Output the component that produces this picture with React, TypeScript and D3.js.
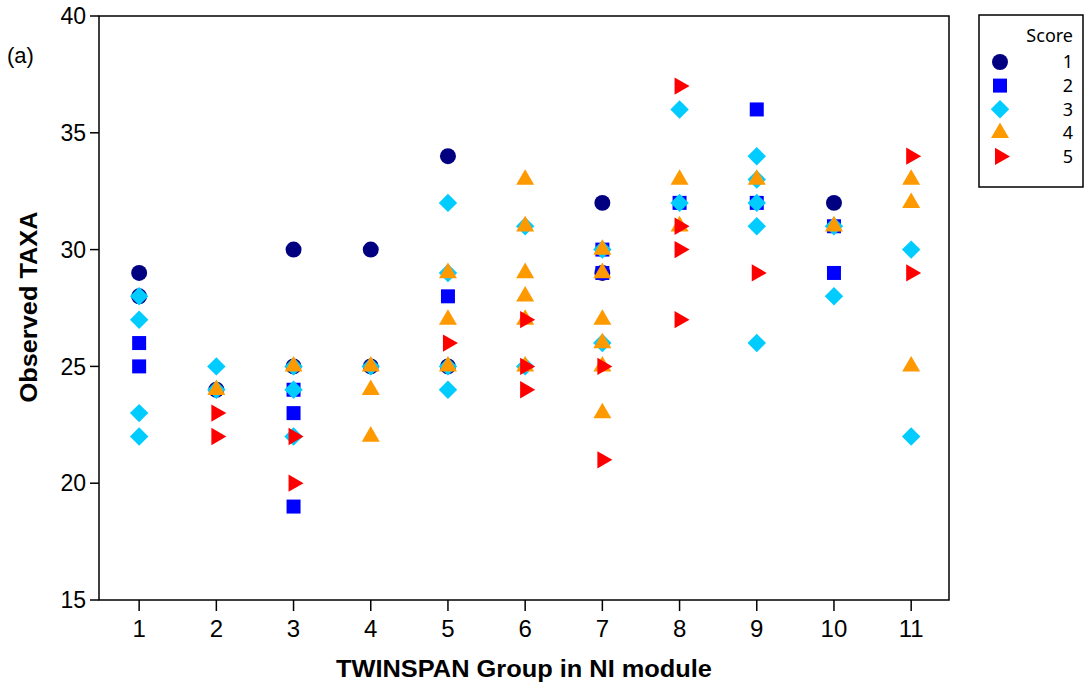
import React from "react";
import * as d3 from "d3";

const xTicks = [1, 2, 3, 4, 5, 6, 7, 8, 9, 10, 11];
const yTicks = [15, 20, 25, 30, 35, 40];
const scoreLabels = ["1", "2", "3", "4", "5"];

// [TWINSPAN group, observed taxa]
const score1: [number, number][] = [[1,29],[1,28],[2,24],[3,30],[3,25],[4,30],[4,25],[5,34],[5,25],[7,32],[7,29],[10,32]];
const score2: [number, number][] = [[1,26],[1,25],[3,24],[3,23],[3,19],[5,28],[7,30],[7,29],[8,32],[9,36],[9,32],[10,31],[10,29]];
const score3: [number, number][] = [[1,28],[1,27],[1,23],[1,22],[2,25],[2,24],[3,25],[3,24],[3,22],[4,25],[5,32],[5,29],[5,25],[5,24],[6,31],[6,25],[7,30],[7,26],[8,36],[8,32],[9,34],[9,33],[9,32],[9,31],[9,26],[10,31],[10,28],[11,30],[11,22]];
const score4: [number, number][] = [[2,24],[3,25],[4,25],[4,24],[4,22],[5,29],[5,27],[5,25],[6,33],[6,31],[6,29],[6,28],[6,27],[6,25],[7,30],[7,29],[7,27],[7,26],[7,25],[7,23],[8,33],[8,31],[9,33],[10,31],[11,33],[11,32],[11,25]];
const score5: [number, number][] = [[2,23],[2,22],[3,22],[3,20],[5,26],[6,27],[6,25],[6,24],[7,25],[7,21],[8,37],[8,31],[8,30],[8,27],[9,29],[11,34],[11,29]];

const seriesData = [score1, score2, score3, score4, score5];
const colors = ["#000080", "#0000FF", "#00CCFF", "#FF9900", "#FF0000"];
const shapes = [
  { type: d3.symbolCircle, size: 200, rot: 0 },
  { type: d3.symbolSquare, size: 196, rot: 0 },
  { type: d3.symbolSquare, size: 170, rot: 45 },
  { type: d3.symbolTriangle, size: 140, rot: 0 },
  { type: d3.symbolTriangle, size: 130, rot: 90 },
];

export default function App() {
  const left = 99, right = 949, top = 16, bottom = 600;
  const x = d3.scaleLinear().domain([0.48, 11.49]).range([left, right]);
  const y = d3.scaleLinear().domain([15, 40]).range([bottom, top]);
  const paths = shapes.map((s) => d3.symbol().type(s.type).size(s.size)()!);
  const font = "'Liberation Sans', Arial, sans-serif";
  const narrow = "'Liberation Sans Narrow', 'Liberation Sans', Arial, sans-serif";

  return (
    <svg width={1084} height={687} style={{ position: "absolute", left: 0, top: 0 }}>
      <rect x={0} y={0} width={1084} height={687} fill="#fff" />
      {/* frame */}
      <rect x={left} y={top} width={right - left} height={bottom - top} fill="none" stroke="#000" strokeWidth={1.5} />
      {/* y axis ticks */}
      {yTicks.map((t) => (
        <g key={"y" + t}>
          <line x1={left - 9} x2={left} y1={y(t)} y2={y(t)} stroke="#000" strokeWidth={1.5} />
          <text x={left - 13} y={y(t)} dy="0.36em" textAnchor="end" fontFamily={font} fontSize={23}>{t}</text>
        </g>
      ))}
      {/* x axis ticks */}
      {xTicks.map((t) => (
        <g key={"x" + t}>
          <line x1={x(t)} x2={x(t)} y1={bottom} y2={bottom + 11} stroke="#000" strokeWidth={1.5} />
          <text x={x(t)} y={637} textAnchor="middle" fontFamily={narrow} fontSize={24}>{t}</text>
        </g>
      ))}
      <text x={524} y={677} textAnchor="middle" fontFamily={font} fontWeight="bold" fontSize={23} textLength={376} lengthAdjust="spacingAndGlyphs">TWINSPAN Group in NI module</text>
      <text transform="translate(37,307) rotate(-90)" textAnchor="middle" fontFamily={font} fontWeight="bold" fontSize={23} textLength={191} lengthAdjust="spacingAndGlyphs">Observed TAXA</text>
      <text x={7} y={63} fontFamily={font} fontSize={22}>(a)</text>
      {/* points */}
      {seriesData.map((ser, i) => (
        <g key={"s" + i} fill={colors[i]}>
          {ser.map((d, j) => (
            <path key={j} d={paths[i]} transform={`translate(${x(d[0])},${y(d[1])}) rotate(${shapes[i].rot})`} />
          ))}
        </g>
      ))}
      {/* legend */}
      <rect x={979} y={15} width={104} height={172} fill="#fff" stroke="#000" strokeWidth={1.5} />
      <text x={1073} y={42} textAnchor="end" fontFamily="'Noto Sans', sans-serif" fontSize={18}>Score</text>
      {scoreLabels.map((lab, i) => {
        const cy = 62 + i * 23.6;
        return (
          <g key={"l" + i}>
            <path d={paths[i]} transform={`translate(1000,${cy}) rotate(${shapes[i].rot})`} fill={colors[i]} />
            <text x={1073} y={cy} dy="0.36em" textAnchor="end" fontFamily="'Noto Sans', sans-serif" fontSize={18}>{lab}</text>
          </g>
        );
      })}
    </svg>
  );
}
